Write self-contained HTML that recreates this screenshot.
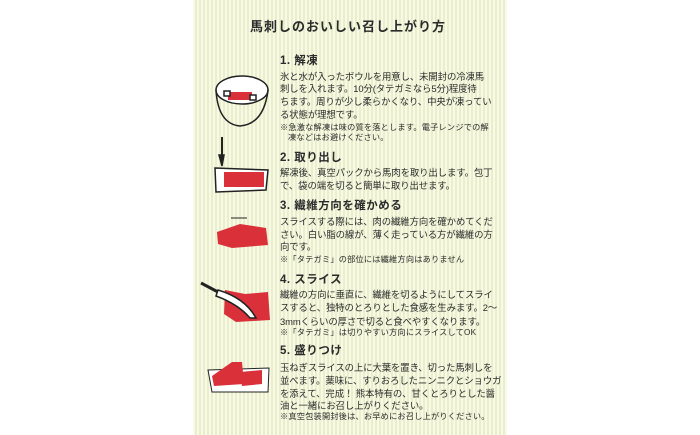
<!DOCTYPE html>
<html><head><meta charset="utf-8"><style>
body{margin:0;width:700px;height:435px;overflow:hidden;background:#fff;position:relative;font-family:"Liberation Sans","Noto Sans CJK JP",sans-serif;color:#2b2b2b}
#panel{position:absolute;left:193px;top:0;width:314px;height:435px;background:repeating-linear-gradient(90deg,#f8f9ea 0,#f8f9ea 2px,#e9efc6 2px,#e9efc6 4px)}
.t{position:absolute;white-space:nowrap;line-height:1}
.h{font-size:11.5px;font-weight:bold;letter-spacing:0.5px}
.b{font-size:9.4px;letter-spacing:-0.1px}
.n{font-size:8.2px;letter-spacing:0.2px}
svg{position:absolute;left:0;top:0}
</style></head><body>
<div id="panel"></div>
<div class="t" style="left:250px;top:20px;font-size:13px;font-weight:bold;letter-spacing:1px">馬刺しのおいしい召し上がり方</div>

<div class="t h" style="left:280px;top:56px">1. 解凍</div>
<div class="t b" style="left:280px;top:72px">氷と水が入ったボウルを用意し、未開封の冷凍馬</div>
<div class="t b" style="left:280px;top:84px">刺しを入れます。10分(タテガミなら5分)程度待</div>
<div class="t b" style="left:280px;top:97px">ちます。周りが少し柔らかくなり、中央が凍ってい</div>
<div class="t b" style="left:280px;top:110px">る状態が理想です。</div>
<div class="t n" style="left:280px;top:124px">※急激な解凍は味の質を落とします。電子レンジでの解</div>
<div class="t n" style="left:288px;top:134px">凍などはお避けください。</div>

<div class="t h" style="left:280px;top:153px">2. 取り出し</div>
<div class="t b" style="left:280px;top:168px">解凍後、真空パックから馬肉を取り出します。包丁</div>
<div class="t b" style="left:280px;top:181px">で、袋の端を切ると簡単に取り出せます。</div>

<div class="t h" style="left:280px;top:201px">3. 繊維方向を確かめる</div>
<div class="t b" style="left:280px;top:217px">スライスする際には、肉の繊維方向を確かめてくだ</div>
<div class="t b" style="left:280px;top:230px">さい。白い脂の線が、薄く走っている方が繊維の方</div>
<div class="t b" style="left:280px;top:242px">向です。</div>
<div class="t n" style="left:280px;top:256px">※「タテガミ」の部位には繊維方向はありません</div>

<div class="t h" style="left:280px;top:275px">4. スライス</div>
<div class="t b" style="left:280px;top:290px">繊維の方向に垂直に、繊維を切るようにしてスライ</div>
<div class="t b" style="left:280px;top:303px">スすると、独特のとろりとした食感を生みます。2〜</div>
<div class="t b" style="left:280px;top:317px">3mmくらいの厚さで切ると食べやすくなります。</div>
<div class="t n" style="left:280px;top:329px">※「タテガミ」は切りやすい方向にスライスしてOK</div>

<div class="t h" style="left:280px;top:346px">5. 盛りつけ</div>
<div class="t b" style="left:280px;top:363px">玉ねぎスライスの上に大葉を置き、切った馬刺しを</div>
<div class="t b" style="left:280px;top:376px">並べます。薬味に、すりおろしたニンニクとショウガ</div>
<div class="t b" style="left:280px;top:389px">を添えて、完成！ 熊本特有の、甘くとろりとした醤</div>
<div class="t b" style="left:280px;top:401px">油と一緒にお召し上がりください。</div>
<div class="t n" style="left:280px;top:413px">※真空包装開封後は、お早めにお召し上がりください。</div>

<svg width="700" height="435" viewBox="0 0 700 435">
<g fill="none" stroke="#222" stroke-width="1.5">
<ellipse cx="242" cy="90" rx="26" ry="14" fill="#fff"/>
<path d="M216 90 Q218 124 240 126 Q264 124 268 90"/>
<rect x="228" y="92" width="24" height="8" fill="#d9303a" stroke="none"/>
<rect x="224" y="91" width="6" height="5" fill="#fff"/>
<rect x="250" y="95" width="6" height="5" fill="#fff"/>
<path d="M222 137 L222 155" stroke-width="2"/>
<path d="M219 155 L222 166 L224 155 Z" fill="#222"/>
<path d="M215 168 L268 170 L266 190 L216 192 Z" fill="#fff"/>
<rect x="224" y="172" width="40" height="15" fill="#d9303a" stroke="none"/>
<path d="M231 218 L247 218" stroke-width="1"/>
<path d="M217 232 L240 224 L266 228 L268 245 L232 248 L218 244 Z" fill="#d9303a" stroke="none"/>
<path d="M225 290 L245 294 L268 292 L270 320 L236 322 L224 314 Z" fill="#d9303a" stroke="none"/>
<path d="M201 283 L218 292" stroke-width="3"/>
<path d="M218 290 Q245 298 256 318 L250 318 Q238 304 216 296 Z" fill="#fff"/>
<path d="M208 370 L269 368 L268 392 L212 392 Z" fill="#fff" stroke-width="1"/>
<path d="M212 376 L232 362 L242 362 L244 384 L214 386 Z" fill="#d9303a" stroke="none"/>
<path d="M240 372 L262 370 L262 384 L242 386 Z" fill="#d9303a" stroke="none"/>
</g>
</svg>
</body></html>
